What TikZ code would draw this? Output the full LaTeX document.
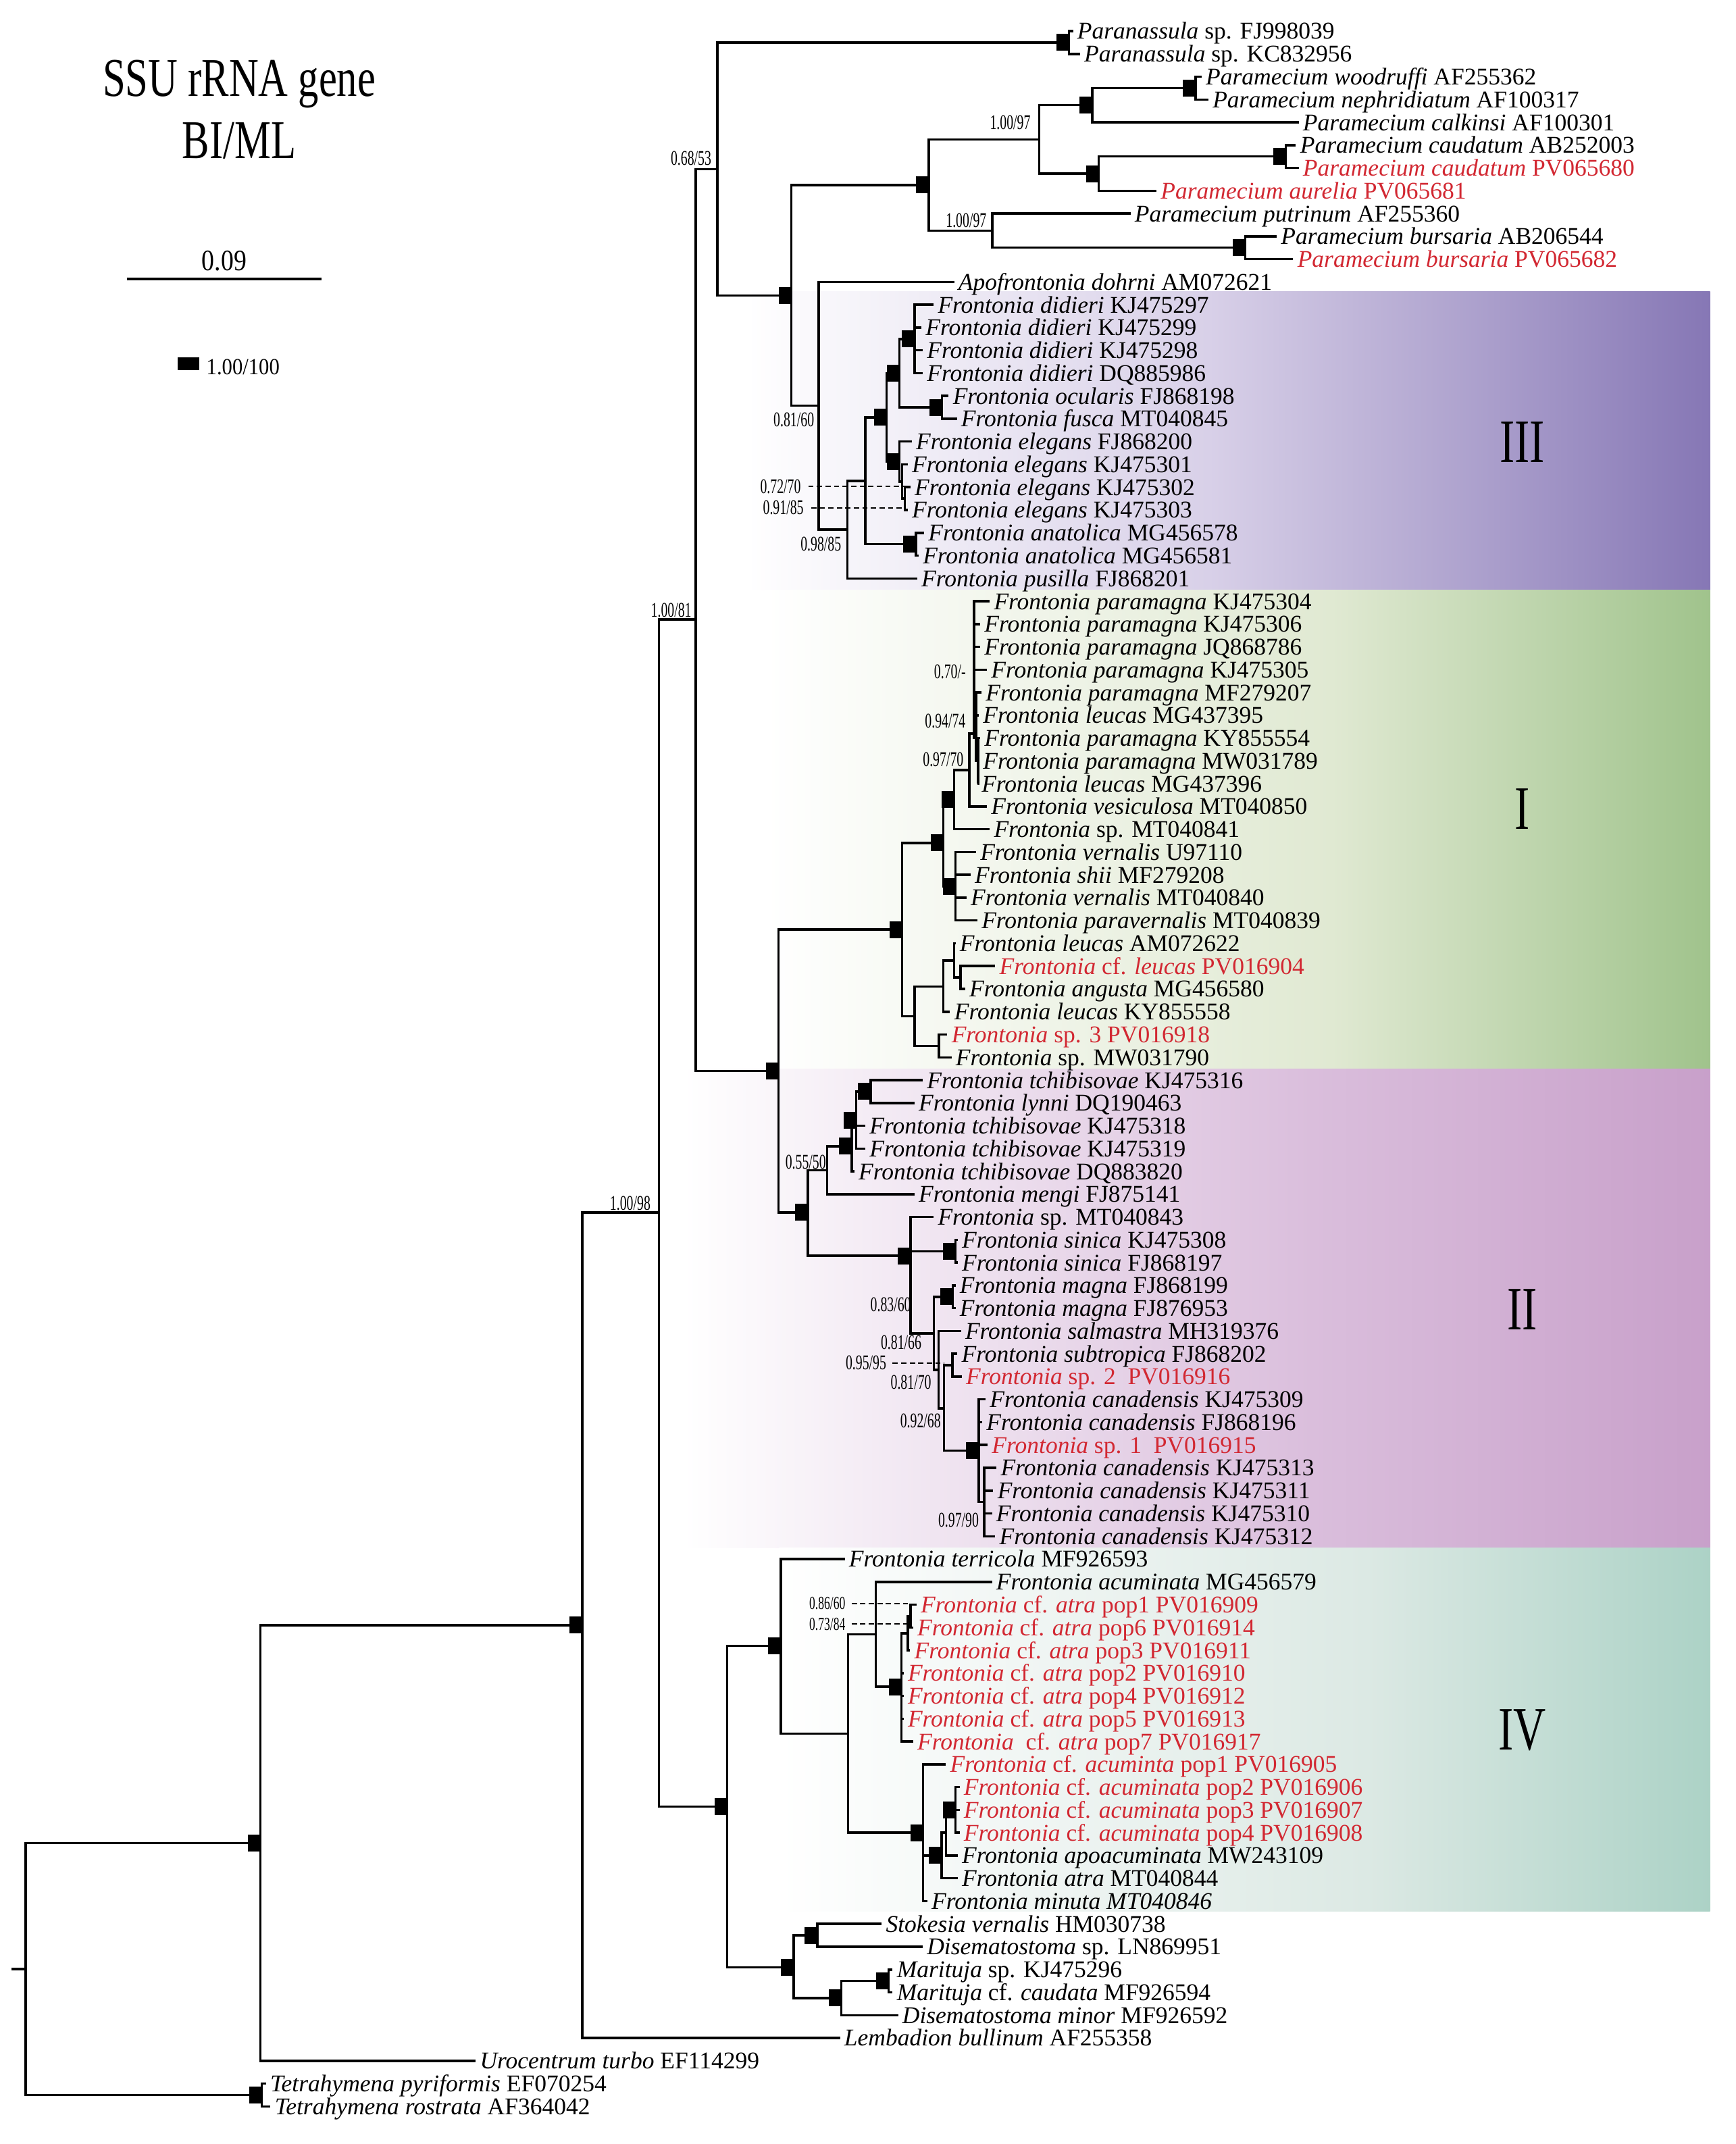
\documentclass[tikz,border=0pt]{standalone}
\usepackage{fontspec}
\setmainfont{Liberation Serif}

\definecolor{newred}{RGB}{210,40,50}
\definecolor{IIImid}{RGB}{216,208,232}
\definecolor{IIIend}{RGB}{134,119,181}
\definecolor{Imid}{RGB}{224,233,210}
\definecolor{Iend}{RGB}{160,195,140}
\definecolor{IImid}{RGB}{218,190,220}
\definecolor{IIend}{RGB}{200,160,202}
\definecolor{IVmid}{RGB}{220,233,228}
\definecolor{IVend}{RGB}{172,210,198}

\pgfdeclarehorizontalshading{shIII}{100bp}{color(0bp)=(white); color(25bp)=(white); color(49bp)=(IIImid); color(75bp)=(IIIend); color(100bp)=(IIIend)}
\pgfdeclarehorizontalshading{shI}{100bp}{color(0bp)=(white); color(25bp)=(white); color(55bp)=(Imid); color(75bp)=(Iend); color(100bp)=(Iend)}
\pgfdeclarehorizontalshading{shII}{100bp}{color(0bp)=(white); color(25bp)=(white); color(55.6bp)=(IImid); color(75bp)=(IIend); color(100bp)=(IIend)}
\pgfdeclarehorizontalshading{shIV}{100bp}{color(0bp)=(white); color(25bp)=(white); color(56.5bp)=(IVmid); color(75bp)=(IVend); color(100bp)=(IVend)}

% children of a node: vertical to each child, then across
\newcommand{\clade}[2]{\foreach \c in {#2} \draw[branch] (#1) |- (\c);}
\newcommand{\sq}[1]{\scalebox{0.64}[1]{#1}}

\tikzset{
  branch/.style={line width=1pt},
  leaf/.style={anchor=west, inner xsep=1.6pt, inner ysep=0pt, text height=0.68em, text depth=0pt,
    font=\fontsize{10.1}{10}\selectfont},
  new/.style={leaf, text=newred},
  pp/.style={fill=black, anchor=east, minimum width=0.18cm, minimum height=0.25cm, inner sep=0pt},
  supp/.style={font=\fontsize{8.8}{9}\selectfont, inner sep=0pt},
  smallsupp/.style={font=\fontsize{7.8}{8}\selectfont, inner sep=0pt},
  dashlink/.style={line width=0.5pt, dash pattern=on 2.2pt off 1.4pt},
  cladename/.style={font=\fontsize{26}{26}\selectfont, inner sep=0pt}
}

\begin{document}
\begin{tikzpicture}[x=0.20236mm, y=-3.376mm]
\useasboundingbox (0,-0.3626) rectangle (1269.9,93.65);

% clade boxes
\shade[shading=shIII] (546,12.43) rectangle (1251,25.5);
\shade[shading=shI] (560,25.5) rectangle (1251,46.5);
\shade[shading=shII] (500,46.5) rectangle (1251,67.5);
\shade[shading=shIV] (570,67.5) rectangle (1251,83.45);
\node[cladename] (cIII) at (1113.5,19.04) {\scalebox{0.73}[1]{III}};
\node[cladename] (cI) at (1113.5,35.1) {\scalebox{0.73}[1]{I}};
\node[cladename] (cII) at (1113.5,57.07) {\scalebox{0.73}[1]{II}};
\node[cladename] (cIV) at (1113.5,75.5) {\scalebox{0.73}[1]{IV}};

% title, scale bar, key
\node[anchor=base, font=\fontsize{23}{23}\selectfont, inner sep=0pt] (title) at (175,3.87) {\scalebox{0.75}[1]{SSU rRNA gene}};
\node[anchor=base, font=\fontsize{23}{23}\selectfont, inner sep=0pt] (method) at (175,6.57) {\scalebox{0.75}[1]{BI/ML}};
\coordinate (sb0) at (93,11.87);
\coordinate (sb1) at (235.2,11.87);
\draw[line width=1.3pt] (sb0) -- (sb1);
\node[anchor=base, font=\fontsize{12.5}{12.5}\selectfont, inner sep=0pt] (sbl) at (164,11.49) {\scalebox{0.86}[1]{0.09}};
\node[fill=black, minimum width=0.32cm, minimum height=0.19cm, inner sep=0pt] (key) at (138,15.6) {};
\node[anchor=base west, font=\fontsize{9.7}{9.7}\selectfont, inner sep=0pt] (keyl) at (150.7,16.05) {\scalebox{0.9}[1]{1.00/100}};

% leaves
\node[leaf] (l1) at (785,1) {\textit{Paranassula} sp. FJ998039};
\node[leaf] (l2) at (790,2) {\textit{Paranassula} sp. KC832956};
\node[leaf] (l3) at (879,3) {\textit{Paramecium woodruffi} AF255362};
\node[leaf] (l4) at (884,4) {\textit{Paramecium nephridiatum} AF100317};
\node[leaf] (l5) at (950,5) {\textit{Paramecium calkinsi} AF100301};
\node[leaf] (l6) at (948,6) {\textit{Paramecium caudatum} AB252003};
\node[new] (l7) at (950,7) {\textit{Paramecium caudatum} PV065680};
\node[new] (l8) at (846,8) {\textit{Paramecium aurelia} PV065681};
\node[leaf] (l9) at (827,9) {\textit{Paramecium putrinum} AF255360};
\node[leaf] (l10) at (934,10) {\textit{Paramecium bursaria} AB206544};
\node[new] (l11) at (946,11) {\textit{Paramecium bursaria} PV065682};
\node[leaf] (l12) at (698,12) {\textit{Apofrontonia dohrni} AM072621};
\node[leaf] (l13) at (683,13) {\textit{Frontonia didieri} KJ475297};
\node[leaf] (l14) at (674,14) {\textit{Frontonia didieri} KJ475299};
\node[leaf] (l15) at (675,15) {\textit{Frontonia didieri} KJ475298};
\node[leaf] (l16) at (675,16) {\textit{Frontonia didieri} DQ885986};
\node[leaf] (l17) at (694,17) {\textit{Frontonia ocularis} FJ868198};
\node[leaf] (l18) at (700,18) {\textit{Frontonia fusca} MT040845};
\node[leaf] (l19) at (667,19) {\textit{Frontonia elegans} FJ868200};
\node[leaf] (l20) at (664,20) {\textit{Frontonia elegans} KJ475301};
\node[leaf] (l21) at (666,21) {\textit{Frontonia elegans} KJ475302};
\node[leaf] (l22) at (664,22) {\textit{Frontonia elegans} KJ475303};
\node[leaf] (l23) at (676,23) {\textit{Frontonia anatolica} MG456578};
\node[leaf] (l24) at (672,24) {\textit{Frontonia anatolica} MG456581};
\node[leaf] (l25) at (671,25) {\textit{Frontonia pusilla} FJ868201};
\node[leaf] (l26) at (724,26) {\textit{Frontonia paramagna} KJ475304};
\node[leaf] (l27) at (717,27) {\textit{Frontonia paramagna} KJ475306};
\node[leaf] (l28) at (717,28) {\textit{Frontonia paramagna} JQ868786};
\node[leaf] (l29) at (722,29) {\textit{Frontonia paramagna} KJ475305};
\node[leaf] (l30) at (718,30) {\textit{Frontonia paramagna} MF279207};
\node[leaf] (l31) at (716,31) {\textit{Frontonia leucas} MG437395};
\node[leaf] (l32) at (717,32) {\textit{Frontonia paramagna} KY855554};
\node[leaf] (l33) at (716,33) {\textit{Frontonia paramagna} MW031789};
\node[leaf] (l34) at (715,34) {\textit{Frontonia leucas} MG437396};
\node[leaf] (l35) at (722,35) {\textit{Frontonia vesiculosa} MT040850};
\node[leaf] (l36) at (724,36) {\textit{Frontonia} sp. MT040841};
\node[leaf] (l37) at (714,37) {\textit{Frontonia vernalis} U97110};
\node[leaf] (l38) at (710,38) {\textit{Frontonia shii} MF279208};
\node[leaf] (l39) at (707,39) {\textit{Frontonia vernalis} MT040840};
\node[leaf] (l40) at (715,40) {\textit{Frontonia paravernalis} MT040839};
\node[leaf] (l41) at (699,41) {\textit{Frontonia leucas} AM072622};
\node[new] (l42) at (728,42) {\textit{Frontonia} cf. \textit{leucas} PV016904};
\node[leaf] (l43) at (706,43) {\textit{Frontonia angusta} MG456580};
\node[leaf] (l44) at (695,44) {\textit{Frontonia leucas} KY855558};
\node[new] (l45) at (693,45) {\textit{Frontonia} sp. 3 PV016918};
\node[leaf] (l46) at (696,46) {\textit{Frontonia} sp. MW031790};
\node[leaf] (l47) at (675,47) {\textit{Frontonia tchibisovae} KJ475316};
\node[leaf] (l48) at (669,48) {\textit{Frontonia lynni} DQ190463};
\node[leaf] (l49) at (633,49) {\textit{Frontonia tchibisovae} KJ475318};
\node[leaf] (l50) at (633,50) {\textit{Frontonia tchibisovae} KJ475319};
\node[leaf] (l51) at (625,51) {\textit{Frontonia tchibisovae} DQ883820};
\node[leaf] (l52) at (669,52) {\textit{Frontonia mengi} FJ875141};
\node[leaf] (l53) at (683,53) {\textit{Frontonia} sp. MT040843};
\node[leaf] (l54) at (700.6,54) {\textit{Frontonia sinica} KJ475308};
\node[leaf] (l55) at (700.6,55) {\textit{Frontonia sinica} FJ868197};
\node[leaf] (l56) at (699,56) {\textit{Frontonia magna} FJ868199};
\node[leaf] (l57) at (699,57) {\textit{Frontonia magna} FJ876953};
\node[leaf] (l58) at (703,58) {\textit{Frontonia salmastra} MH319376};
\node[leaf] (l59) at (700.4,59) {\textit{Frontonia subtropica} FJ868202};
\node[new] (l60) at (703.6,60) {\textit{Frontonia} sp. 2~ PV016916};
\node[leaf] (l61) at (721,61) {\textit{Frontonia canadensis} KJ475309};
\node[leaf] (l62) at (718.5,62) {\textit{Frontonia canadensis} FJ868196};
\node[new] (l63) at (722.5,63) {\textit{Frontonia} sp. 1~ PV016915};
\node[leaf] (l64) at (729,64) {\textit{Frontonia canadensis} KJ475313};
\node[leaf] (l65) at (726.6,65) {\textit{Frontonia canadensis} KJ475311};
\node[leaf] (l66) at (725.7,66) {\textit{Frontonia canadensis} KJ475310};
\node[leaf] (l67) at (728,67) {\textit{Frontonia canadensis} KJ475312};
\node[leaf] (l68) at (618,68) {\textit{Frontonia terricola} MF926593};
\node[leaf] (l69) at (725.7,69) {\textit{Frontonia acuminata} MG456579};
\node[new] (l70) at (670.5,70) {\textit{Frontonia} cf. \textit{atra} pop1 PV016909};
\node[new] (l71) at (668,71) {\textit{Frontonia} cf. \textit{atra} pop6 PV016914};
\node[new] (l72) at (665.8,72) {\textit{Frontonia} cf. \textit{atra} pop3 PV016911};
\node[new] (l73) at (661,73) {\textit{Frontonia} cf. \textit{atra} pop2 PV016910};
\node[new] (l74) at (661,74) {\textit{Frontonia} cf. \textit{atra} pop4 PV016912};
\node[new] (l75) at (661,75) {\textit{Frontonia} cf. \textit{atra} pop5 PV016913};
\node[new] (l76) at (668,76) {\textit{Frontonia}~ cf. \textit{atra} pop7 PV016917};
\node[new] (l77) at (692,77) {\textit{Frontonia} cf. \textit{acuminta} pop1 PV016905};
\node[new] (l78) at (702,78) {\textit{Frontonia} cf. \textit{acuminata} pop2 PV016906};
\node[new] (l79) at (702,79) {\textit{Frontonia} cf. \textit{acuminata} pop3 PV016907};
\node[new] (l80) at (702,80) {\textit{Frontonia} cf. \textit{acuminata} pop4 PV016908};
\node[leaf] (l81) at (700.6,81) {\textit{Frontonia apoacuminata} MW243109};
\node[leaf] (l82) at (700.6,82) {\textit{Frontonia atra} MT040844};
\node[leaf] (l83) at (678.4,83) {\textit{Frontonia minuta MT040846}};
\node[leaf] (l84) at (645,84) {\textit{Stokesia vernalis} HM030738};
\node[leaf] (l85) at (675,85) {\textit{Disematostoma} sp. LN869951};
\node[leaf] (l86) at (653,86) {\textit{Marituja} sp. KJ475296};
\node[leaf] (l87) at (653,87) {\textit{Marituja} cf. \textit{caudata} MF926594};
\node[leaf] (l88) at (657,88) {\textit{Disematostoma minor} MF926592};
\node[leaf] (l89) at (614.5,89) {\textit{Lembadion bullinum} AF255358};
\node[leaf] (l90) at (348,90) {\textit{Urocentrum turbo} EF114299};
\node[leaf] (l91) at (194.6,91) {\textit{Tetrahymena pyriformis} EF070254};
\node[leaf] (l92) at (197.9,92) {\textit{Tetrahymena rostrata} AF364042};

% inner nodes
\coordinate (nPara) at (782,1.5);
\coordinate (nWN) at (874.5,3.5);
\coordinate (nWNC) at (799,4.25);
\coordinate (nCaud) at (940.7,6.5);
\coordinate (nCA) at (803.8,7.25);
\coordinate (n1097a) at (760.3,5.75);
\coordinate (nBurs) at (911,10.5);
\coordinate (n1097b) at (725.8,9.75);
\coordinate (nParam) at (679.5,7.75);
\coordinate (nDid) at (669,14.5);
\coordinate (nOF) at (689,17.5);
\coordinate (nDO) at (658,16);
\coordinate (nE2) at (662,21.5);
\coordinate (nE1) at (660,20.75);
\coordinate (nE0) at (658,19.875);
\coordinate (nDOE) at (648.5,17.94);
\coordinate (nAna) at (670,23.5);
\coordinate (n0633) at (633,20.72);
\coordinate (n0985) at (620,22.86);
\coordinate (n0860) at (599,17.43);
\coordinate (n575) at (579,12.59);
\coordinate (n068) at (524.8,7.05);
\coordinate (Pc) at (715.5,33);
\coordinate (Pb) at (714,32);
\coordinate (Pa) at (712.5,31.8);
\coordinate (nPV) at (709,33.4);
\coordinate (nSp) at (698,34.7);
\coordinate (nVer) at (699,38.5);
\coordinate (nSV) at (690,36.6);
\coordinate (nIc) at (702.7,42.5);
\coordinate (nIb) at (698,41.75);
\coordinate (nIa) at (690,42.9);
\coordinate (nId) at (686.8,45.5);
\coordinate (nIe) at (669,44.2);
\coordinate (nI) at (660,40.4);
\coordinate (nC47) at (637,47.5);
\coordinate (nB49) at (626.4,48.75);
\coordinate (nA50) at (623.2,49.9);
\coordinate (nIIa) at (605,50.95);
\coordinate (nSin) at (699,54.5);
\coordinate (nMag) at (697,56.5);
\coordinate (nSS) at (696.7,59.5);
\coordinate (nCan2) at (720,65.5);
\coordinate (nCan) at (716,63.25);
\coordinate (nIIc) at (690.5,61.4);
\coordinate (nIIbb) at (686.5,59.7);
\coordinate (nIIaa) at (683.2,58.1);
\coordinate (nIIb) at (666,54.7);
\coordinate (nII) at (591,52.8);
\coordinate (nIandII) at (569.6,46.6);
\coordinate (nIV5) at (666,70.5);
\coordinate (nIV4) at (664,71.25);
\coordinate (nIV3) at (659.5,73.6);
\coordinate (nIV2) at (640.6,71.3);
\coordinate (nAc4) at (699,79);
\coordinate (nAc3) at (692,80);
\coordinate (nAc2) at (688.8,81);
\coordinate (nAc) at (675.3,80);
\coordinate (nIV1) at (620.4,75.65);
\coordinate (nIV) at (571.2,71.8);
\coordinate (nSD) at (598,84.5);
\coordinate (nMP) at (650,86.5);
\coordinate (nMar) at (615.5,87.25);
\coordinate (nSo) at (580.7,85.9);
\coordinate (nIVo) at (531.9,78.85);
\coordinate (nD) at (509,26.8);
\coordinate (nC) at (482,52.8);
\coordinate (nB) at (426,70.9);
\coordinate (nA) at (190.5,80.45);
\coordinate (nTet) at (191.5,91.5);
\coordinate (root) at (18.8,85.98);
\coordinate (r0) at (8.2,85.98);

% branches
\clade{nPara}{l1.west,l2.west}
\clade{nWN}{l3.west,l4.west}
\clade{nWNC}{nWN,l5.west}
\clade{nCaud}{l6.west,l7.west}
\clade{nCA}{nCaud,l8.west}
\clade{n1097a}{nWNC,nCA}
\clade{nBurs}{l10.west,l11.west}
\clade{n1097b}{l9.west,nBurs}
\clade{nParam}{n1097a,n1097b}
\clade{nDid}{l13.west,l14.west,l15.west,l16.west}
\clade{nOF}{l17.west,l18.west}
\clade{nDO}{nDid,nOF}
\clade{nE2}{l21.west,l22.west}
\clade{nE1}{l20.west,nE2}
\clade{nE0}{l19.west,nE1}
\clade{nDOE}{nDO,nE0}
\clade{nAna}{l23.west,l24.west}
\clade{n0633}{nDOE,nAna}
\clade{n0985}{n0633,l25.west}
\clade{n0860}{l12.west,n0985}
\clade{n575}{nParam,n0860}
\clade{n068}{nPara,n575}
\clade{Pc}{l32.west,l33.west,l34.west}
\clade{Pb}{l30.west,l31.west,Pc}
\clade{Pa}{l26.west,l27.west,l28.west,l29.west,Pb}
\clade{nPV}{Pa,l35.west}
\clade{nSp}{nPV,l36.west}
\clade{nVer}{l37.west,l38.west,l39.west,l40.west}
\clade{nSV}{nSp,nVer}
\clade{nIc}{l42.west,l43.west}
\clade{nIb}{l41.west,nIc}
\clade{nIa}{nIb,l44.west}
\clade{nId}{l45.west,l46.west}
\clade{nIe}{nIa,nId}
\clade{nI}{nSV,nIe}
\clade{nC47}{l47.west,l48.west}
\clade{nB49}{nC47,l49.west,l50.west}
\clade{nA50}{nB49,l51.west}
\clade{nIIa}{nA50,l52.west}
\clade{nSin}{l54.west,l55.west}
\clade{nMag}{l56.west,l57.west}
\clade{nSS}{l59.west,l60.west}
\clade{nCan2}{l64.west,l65.west,l66.west,l67.west}
\clade{nCan}{l61.west,l62.west,l63.west,nCan2}
\clade{nIIc}{nSS,nCan}
\clade{nIIbb}{l58.west,nIIc}
\clade{nIIaa}{nMag,nIIbb}
\clade{nIIb}{l53.west,nSin,nIIaa}
\clade{nII}{nIIa,nIIb}
\clade{nIandII}{nI,nII}
\clade{nIV5}{l70.west,l71.west}
\clade{nIV4}{nIV5,l72.west}
\clade{nIV3}{nIV4,l73.west,l74.west,l75.west,l76.west}
\clade{nIV2}{l69.west,nIV3}
\clade{nAc4}{l78.west,l79.west,l80.west}
\clade{nAc3}{nAc4,l81.west}
\clade{nAc2}{nAc3,l82.west}
\clade{nAc}{l77.west,nAc2,l83.west}
\clade{nIV1}{nIV2,nAc}
\clade{nIV}{l68.west,nIV1}
\clade{nSD}{l84.west,l85.west}
\clade{nMP}{l86.west,l87.west}
\clade{nMar}{nMP,l88.west}
\clade{nSo}{nSD,nMar}
\clade{nIVo}{nIV,nSo}
\clade{nD}{n068,nIandII}
\clade{nC}{nD,nIVo}
\clade{nB}{nC,l89.west}
\clade{nA}{nB,l90.west}
\clade{nTet}{l91.west,l92.west}
\clade{root}{nA,nTet}
\draw[branch] (r0) -- (root);

% full support
\foreach \n in {nPara,nWN,nWNC,nCaud,nCA,nBurs,nParam,n575,nDid,nOF,nDO,nDOE,nE0,nAna,
  nSp,nVer,nSV,nI,nIandII,nC47,nB49,nA50,nII,nSin,nIIb,nMag,nCan,
  nIV3,nAc4,nAc2,nAc,nIV,nSD,nMP,nMar,nSo,nIVo,nB,nA,nTet}
  \node[pp] (s\n) at (\n) {};

% other support values
\node[supp] (b0653) at (505.5,6.57) {\sq{0.68/53}};
\node[supp] (b0097a) at (739,5.02) {\sq{1.00/97}};
\node[supp] (b0097b) at (706.8,9.3) {\sq{1.00/97}};
\node[supp] (b0081) at (491,26.4) {\sq{1.00/81}};
\node[supp] (b0098) at (461,52.4) {\sq{1.00/98}};
\node[supp] (b0860) at (580.7,18.03) {\sq{0.81/60}};
\node[supp] (b0770) at (571,20.97) {\sq{0.72/70}};
\node[supp] (b0985a) at (573,21.9) {\sq{0.91/85}};
\node[supp] (b0985b) at (600.5,23.5) {\sq{0.98/85}};
\node[supp] (b070) at (694.9,29.1) {\sq{0.70/-}};
\node[supp] (b0974) at (691.5,31.25) {\sq{0.94/74}};
\node[supp] (b0970) at (690,32.95) {\sq{0.97/70}};
\node[supp] (b0550) at (589.4,50.6) {\sq{0.55/50}};
\node[supp] (b0860b) at (651.6,56.85) {\sq{0.83/60}};
\node[supp] (b0866) at (659.2,58.5) {\sq{0.81/66}};
\node[supp] (b0995) at (633.5,59.4) {\sq{0.95/95}};
\node[supp] (b0870) at (666.4,60.25) {\sq{0.81/70}};
\node[supp] (b0968) at (673.4,61.95) {\sq{0.92/68}};
\node[supp] (b0990) at (701.2,66.3) {\sq{0.97/90}};
\node[smallsupp] (b0860c) at (605.2,69.95) {\sq{0.86/60}};
\node[smallsupp] (b0784) at (605.2,70.85) {\sq{0.73/84}};

\coordinate (d0770) at (661,20.97);
\coordinate (d0985) at (661,21.9);
\coordinate (d0995) at (691,59.4);
\coordinate (d0860) at (665.8,69.95);
\coordinate (d0784) at (665.8,70.85);
\draw[dashlink] ([xshift=3pt]b0770.east) -- (d0770);
\draw[dashlink] ([xshift=3pt]b0985a.east) -- (d0985);
\draw[dashlink] ([xshift=2.5pt]b0995.east) -- (d0995);
\draw[dashlink] ([xshift=2.5pt]b0860c.east) -- (d0860);
\draw[dashlink] ([xshift=2.5pt]b0784.east) -- (d0784);
\end{tikzpicture}
\end{document}
